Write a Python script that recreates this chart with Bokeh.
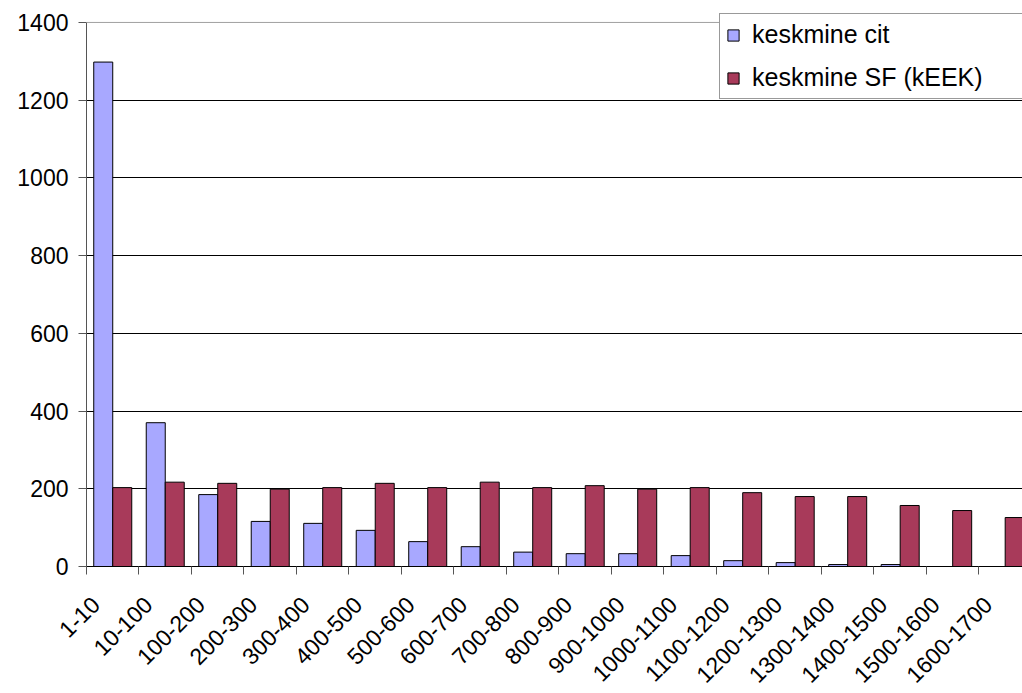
from bokeh.plotting import figure
from bokeh.models import (ColumnDataSource, FixedTicker, CustomJSTickFormatter,
                          Legend, LegendItem, Range1d, Span)
from bokeh.transform import dodge
from bokeh.embed import file_html
from bokeh.resources import INLINE
import math

# Size classes (categories along the x axis)
categories = ["1-10", "10-100", "100-200", "200-300", "300-400", "400-500",
              "500-600", "600-700", "700-800", "800-900", "900-1000",
              "1000-1100", "1100-1200", "1200-1300", "1300-1400",
              "1400-1500", "1500-1600", "1600-1700"]

# Average citations per class
keskmine_cit = [1298, 370, 185, 116, 111, 93, 64, 51, 37, 33, 33, 28, 15,
                10, 5, 5, 0, 0]

# Average SF (kEEK) per class
keskmine_sf = [203, 217, 214, 199, 203, 214, 203, 217, 203, 208, 199, 203,
               190, 180, 180, 157, 144, 126]

y_ticks = [0, 200, 400, 600, 800, 1000, 1200, 1400]

FONT = "Liberation Sans"
BLUE = "#A8A8FF"
PLUM = "#A83A5A"

n = len(categories)
src = ColumnDataSource(dict(
    idx=list(range(n)),
    cit=keskmine_cit,
    sf=keskmine_sf,
))

# a little head-room above 1400 so the legend box can sit above the top gridline
p = figure(width=1022, height=693, output_backend="svg", toolbar_location=None,
           x_range=Range1d(0, 17.83), y_range=Range1d(0, 1423),
           min_border_left=86, min_border_right=0, min_border_top=13,
           min_border_bottom=125)
p.outline_line_color = None
p.background_fill_color = "white"
p.border_fill_color = "white"

bar_w = 0.362
r_cit = p.vbar(x=dodge("idx", 0.5 - bar_w / 2, range=p.x_range), top="cit",
               width=bar_w, source=src, fill_color=BLUE, line_color="black",
               line_width=1)
r_sf = p.vbar(x=dodge("idx", 0.5 + bar_w / 2, range=p.x_range), top="sf",
              width=bar_w, source=src, fill_color=PLUM, line_color="black",
              line_width=1)

# Y axis
p.yaxis.ticker = FixedTicker(ticks=y_ticks)
p.yaxis.bounds = (0, 1400)
p.yaxis.axis_line_color = "#555555"
p.yaxis.major_tick_line_color = "#555555"
p.yaxis.major_tick_in = 0
p.yaxis.major_tick_out = 8
p.yaxis.minor_tick_line_color = None
p.yaxis.major_label_standoff = 10
p.yaxis.major_label_text_font = FONT
p.yaxis.major_label_text_font_size = "23px"
p.yaxis.major_label_text_color = "black"

# X axis: tick marks on the category boundaries, labels near the centres
LABEL_POS = 0.17
p.xaxis.ticker = FixedTicker(ticks=[i + LABEL_POS for i in range(n)],
                             minor_ticks=list(range(n + 1)))
p.xaxis.formatter = CustomJSTickFormatter(
    args=dict(labels=categories, off=LABEL_POS),
    code="return labels[Math.round(tick - off)];")
p.xaxis.axis_line_color = "black"
p.xaxis.major_tick_line_color = None
p.xaxis.major_tick_out = 0
p.xaxis.major_tick_in = 0
p.xaxis.minor_tick_line_color = "#555555"
p.xaxis.minor_tick_in = 0
p.xaxis.minor_tick_out = 8
p.xaxis.major_label_orientation = math.pi / 4
p.xaxis.major_label_standoff = 26
p.xaxis.major_label_text_font = FONT
p.xaxis.major_label_text_font_size = "23px"
p.xaxis.major_label_text_color = "black"

# Grid: black lines up to 1200, a lighter one on the top value
p.xgrid.grid_line_color = None
p.ygrid.ticker = FixedTicker(ticks=y_ticks[1:-1])
p.ygrid.grid_line_color = "black"
p.ygrid.grid_line_width = 1
p.add_layout(Span(location=y_ticks[-1], dimension="width",
                  line_color="#a0a0a0", line_width=1))

# Legend, anchored by its lower-left corner in frame pixels
legend = Legend(items=[LegendItem(label="keskmine cit", renderers=[r_cit]),
                       LegendItem(label="keskmine SF (kEEK)", renderers=[r_sf])],
                location=(633, 467))
legend.border_line_color = "#333333"
legend.border_line_width = 1
legend.background_fill_color = "white"
legend.background_fill_alpha = 1
legend.label_text_font = FONT
legend.label_text_font_size = "25px"
legend.label_text_color = "black"
legend.glyph_width = 14
legend.glyph_height = 14
legend.label_standoff = 12
legend.label_width = 290
legend.padding = 6
legend.spacing = 14
legend.margin = 0
p.add_layout(legend)

open("out.html", "w").write(file_html(p, INLINE))
